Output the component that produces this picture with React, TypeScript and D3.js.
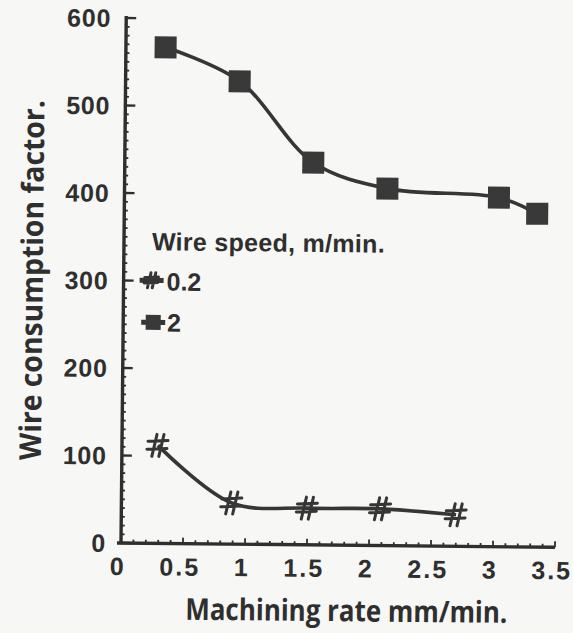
import React from "react";
import * as d3 from "d3";

// Wire speed 0.2 m/min
const rateSlow = [0.29, 0.89, 1.5, 2.09, 2.7];
const factorSlow = [112, 47, 42, 42, 36];

// Wire speed 2 m/min
const rateFast = [0.32, 0.92, 1.52, 2.12, 3.02, 3.33];
const factorFast = [567, 529, 437, 408, 399, 381];

const legendTitle = "Wire speed, m/min.";
const seriesNames = ["0.2", "2"];

const xTicks = [0, 0.5, 1, 1.5, 2, 2.5, 3, 3.5];
const xTickLabels = ["0", "0.5", "1", "1.5", "2", "2.5", "3", "3.5"];
const yTicks = [0, 100, 200, 300, 400, 500, 600];

const xTitle = "Machining rate mm/min.";
const yTitle = "Wire consumption factor.";

const W = 573;
const H = 633;
const INK = "#2f2f2f";
const LINE = "#363636";

const x = d3.scaleLinear().domain([0, 3.5]).range([121, 555]);
const y = d3.scaleLinear().domain([0, 600]).range([543, 18]);

const curve = d3
  .line<[number, number]>()
  .x((d) => x(d[0]))
  .y((d) => y(d[1]))
  .curve(d3.curveCatmullRom.alpha(0.5));

const hashPath = (s: number) => {
  const k = s / 22;
  const p = (a: number, b: number) => `${a * k},${b * k}`;
  return [
    `M${p(-1, -11)}L${p(-6, 11)}`,
    `M${p(6, -11)}L${p(1, 11)}`,
    `M${p(-10, -4)}L${p(10, -5)}`,
    `M${p(-11, 4)}L${p(9, 3)}`,
  ].join("");
};

function Hash({ cx, cy, s = 22, w = 3 }: { cx: number; cy: number; s?: number; w?: number }) {
  return (
    <path
      d={hashPath(s)}
      transform={`translate(${cx},${cy})`}
      fill="none"
      stroke={LINE}
      strokeWidth={w}
      strokeLinecap="round"
    />
  );
}

function Square({ cx, cy, s = 22 }: { cx: number; cy: number; s?: number }) {
  return <rect x={cx - s / 2} y={cy - s / 2} width={s} height={s} fill="#393939" />;
}

export default function App() {
  const slow = rateSlow.map((r, i) => [r, factorSlow[i]] as [number, number]);
  const fast = rateFast.map((r, i) => [r, factorFast[i]] as [number, number]);

  const minorX = d3.range(0, 3.5001, 0.1);
  const minorY = d3.range(0, 600.01, 10);

  const tickFont = "'Liberation Sans', Arial, sans-serif";
  const titleFont = "'Open Sans', 'Noto Sans', sans-serif";

  return (
    <svg
      width={W}
      height={H}
      viewBox={`0 0 ${W} ${H}`}
      style={{ position: "absolute", left: 0, top: 0, background: "#f7f7f5" }}
    >
      <rect width={W} height={H} fill="#f7f7f5" />
      <g transform={`rotate(0.57 ${x(0)} ${y(0)})`}>
        {/* axes */}
        <line x1={x(0)} x2={x(0)} y1={y(0) + 1} y2={y(600) - 2} stroke={INK} strokeWidth={3.4} />
        <line x1={x(0) - 4} x2={x(3.5)} y1={y(0)} y2={y(0)} stroke={INK} strokeWidth={3.4} />

        {minorY.map((v) => (
          <line
            key={`my${v}`}
            x1={x(0)}
            x2={x(0) + (v % 100 === 0 ? 10 : 3.5)}
            y1={y(v)}
            y2={y(v)}
            stroke={INK}
            strokeWidth={v % 100 === 0 ? 2.4 : 1.8}
          />
        ))}
        {minorX.map((v, i) => (
          <line
            key={`mx${i}`}
            x1={x(v)}
            x2={x(v)}
            y1={y(0)}
            y2={y(0) - (i % 5 === 0 ? 6 : 3.5)}
            stroke={INK}
            strokeWidth={1.8}
          />
        ))}

        {yTicks.map((v) => (
          <text
            key={`yt${v}`}
            x={106}
            y={y(v)}
            dy="0.36em"
            textAnchor="end"
            fontFamily={tickFont}
            fontWeight={700}
            fontSize={25}
            letterSpacing={0.8}
            fill={INK}
          >
            {v}
          </text>
        ))}
        {xTicks.map((v, i) => (
          <text
            key={`xt${v}`}
            x={x(v) - 3}
            y={575}
            textAnchor="middle"
            fontFamily={tickFont}
            fontWeight={700}
            fontSize={25}
            letterSpacing={2}
            fill={INK}
          >
            {xTickLabels[i]}
          </text>
        ))}

        {/* titles */}
        <text
          x={347}
          y={619}
          textAnchor="middle"
          fontFamily={titleFont}
          fontWeight={700}
          fontSize={30}
          textLength={322}
          lengthAdjust="spacingAndGlyphs"
          fill={INK}
        >
          {xTitle}
        </text>
        <text
          transform={`translate(40,281) rotate(-90)`}
          textAnchor="middle"
          fontFamily={titleFont}
          fontWeight={700}
          fontSize={30}
          textLength={360}
          lengthAdjust="spacingAndGlyphs"
          fill={INK}
        >
          {yTitle}
        </text>

        {/* series */}
        <path d={curve(fast) ?? ""} fill="none" stroke={LINE} strokeWidth={3.6} />
        <path d={curve(slow) ?? ""} fill="none" stroke={LINE} strokeWidth={3.6} />
        {fast.map((d, i) => (
          <Square key={`s${i}`} cx={x(d[0])} cy={y(d[1])} />
        ))}
        {slow.map((d, i) => (
          <Hash key={`h${i}`} cx={x(d[0])} cy={y(d[1])} />
        ))}

        {/* legend */}
        <text
          x={149}
          y={250}
          fontFamily={tickFont}
          fontWeight={700}
          fontSize={25}
          letterSpacing={0.3}
          fill={INK}
        >
          {legendTitle}
        </text>
        <line x1={137} x2={161} y1={280} y2={280} stroke={LINE} strokeWidth={5} />
        <Hash cx={149} cy={280} s={15} w={3} />
        <text x={164} y={290} fontFamily={tickFont} fontWeight={700} fontSize={25} fill={INK}>
          {seriesNames[0]}
        </text>
        <line x1={139} x2={163} y1={322} y2={322} stroke={LINE} strokeWidth={5} />
        <Square cx={151} cy={322} s={15} />
        <text x={165} y={331} fontFamily={tickFont} fontWeight={700} fontSize={25} fill={INK}>
          {seriesNames[1]}
        </text>
      </g>
    </svg>
  );
}
